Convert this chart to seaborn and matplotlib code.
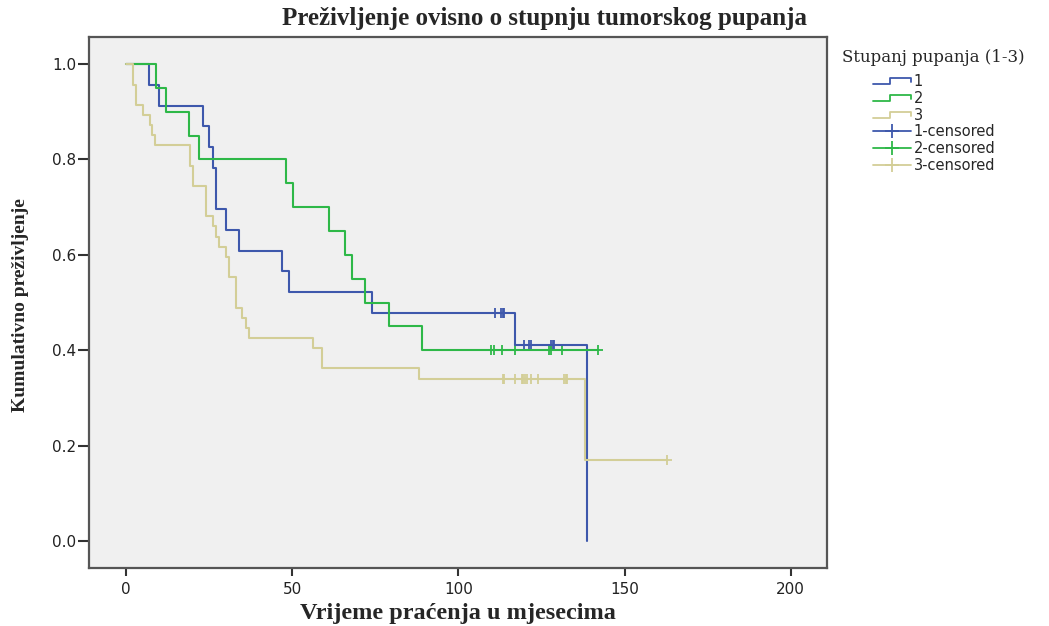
import matplotlib
matplotlib.use("Agg")
import matplotlib.pyplot as plt
from matplotlib.lines import Line2D
from matplotlib.legend_handler import HandlerBase
import seaborn as sns
import numpy as np

# Kaplan-Meier steps (time in months, cumulative survival)
t1 = [0, 7.0, 10.0, 23.1, 25.1, 26.3, 27.1, 30.1, 34.0, 47.0, 49.0, 74.1, 117.0, 138.8]
s1 = [1.0, 0.957, 0.913, 0.870, 0.826, 0.783, 0.696, 0.652, 0.609, 0.565, 0.522, 0.478, 0.410, 0.0]
c1 = [111.0, 112.8, 113.3, 113.7, 119.8, 121.3, 121.9, 127.9, 128.4, 128.8]

t2 = [0, 9.2, 12.2, 19.0, 22.1, 48.1, 50.2, 61.2, 66.0, 68.1, 72.0, 79.0, 89.0]
s2 = [1.0, 0.95, 0.90, 0.85, 0.80, 0.75, 0.70, 0.65, 0.60, 0.55, 0.50, 0.45, 0.40]
c2 = [109.8, 110.7, 113.1, 117.0, 127.4, 127.9, 131.1, 142.1]

t3 = [0, 2.0, 3.0, 5.0, 7.2, 8.0, 8.8, 19.3, 20.1, 24.1, 26.3, 27.0, 28.0, 30.1,
      31.1, 33.0, 35.0, 36.0, 37.1, 56.2, 59.0, 88.1, 138.1]
s3 = [1.0, 0.957, 0.915, 0.894, 0.872, 0.851, 0.830, 0.787, 0.745, 0.681, 0.660, 0.638,
      0.617, 0.596, 0.553, 0.489, 0.468, 0.447, 0.426, 0.404, 0.362, 0.340, 0.170]
c3 = [113.3, 113.7, 117.0, 119.1, 119.5, 120.1, 120.6, 121.9, 123.9, 131.9, 132.3, 132.8, 162.9]

groups = ["1", "2", "3"]
colors = ["#3E58AC", "#2EB848", "#D3CE97"]
xticks = [0, 50, 100, 150, 200]
yticks = [0.0, 0.2, 0.4, 0.6, 0.8, 1.0]


class StepHandler(HandlerBase):
    # little step glyph like the SPSS legend
    def create_artists(self, legend, orig_handle, xdescent, ydescent, width, height, fontsize, trans):
        x = np.array([0, 0.45, 0.45, 1.0, 1.0]) * width - xdescent
        y = np.array([0.15, 0.15, 0.75, 0.75, 0.35]) * height - ydescent
        ln = Line2D(x, y, color=orig_handle.get_color(), lw=orig_handle.get_linewidth())
        ln.set_transform(trans)
        return [ln]


sns.set_theme(style="white", rc={"axes.facecolor": "#F0F0F0"})
plt.rcParams['font.family'] = ['DejaVu Sans']

fig = plt.figure(figsize=(10.49, 6.26), dpi=100)
ax = fig.add_axes([89 / 1049, 1 - 567.7 / 626, (827.3 - 89) / 1049, (567.7 - 37.3) / 626])

for t, s, cens, col in zip([t1, t2, t3], [s1, s2, s3], [c1, c2, c3], colors):
    t = list(t)
    s = list(s)
    if max(cens) > t[-1]:
        t.append(max(cens))
        s.append(s[-1])
    sns.lineplot(x=t, y=s, drawstyle="steps-post", estimator=None, sort=False,
                 color=col, linewidth=1.5, ax=ax)
    idx = np.searchsorted(t, cens, side="right") - 1
    lev = [s[i] for i in idx]
    sns.scatterplot(x=cens, y=lev, marker="+", s=55, color=col, linewidth=1.3, ax=ax, legend=False)

ax.set_xlim(-11.1, 211.0)
ax.set_ylim(-0.056, 1.056)
ax.set_xticks(xticks)
ax.set_yticks(yticks)
ax.set_yticklabels(["%.1f" % v for v in yticks])
ax.tick_params(axis="x", direction="out", length=6, width=1.5, color="#333333", pad=4,
               labelsize=11, labelcolor="#222222", bottom=True)
ax.tick_params(axis="y", direction="out", length=8, width=1.5, color="#333333", pad=1,
               labelsize=11, labelcolor="#222222", left=True)
for sp in ax.spines.values():
    sp.set_color("#555555")
    sp.set_linewidth(1.6)

ax.set_xlabel("Vrijeme praćenja u mjesecima", fontsize=17.5, fontweight="bold",
              family="Liberation Serif")
ax.xaxis.set_label_coords(0.5, (567.7 - 613) / 530.4)
ax.xaxis.label.set_va("center")
ax.set_ylabel("Kumulativno preživljenje", fontsize=14, fontweight="bold",
              family="Liberation Serif")
ax.yaxis.set_label_coords((20 - 89) / 738.3, (567.7 - 305) / 530.4)
ax.yaxis.label.set_va("center")

fig.text(545 / 1049, 1 - 19 / 626, "Preživljenje ovisno o stupnju tumorskog pupanja",
         ha="center", va="center", fontsize=18, fontweight="bold", family="Liberation Serif")

fig.text(842 / 1049, 1 - 57 / 626, "Stupanj pupanja (1-3)", ha="left", va="center",
         fontsize=12, family="DejaVu Serif")

step_h = [Line2D([], [], color=c, lw=1.3) for c in colors]
cens_h = [Line2D([], [], color=c, lw=1.3, marker="+", markersize=10, mew=1.3) for c in colors]
labels = groups + [g + "-censored" for g in groups]
hmap = {h: StepHandler() for h in step_h}
fig.legend(step_h + cens_h, labels, handler_map=hmap, loc="upper left",
           bbox_to_anchor=(873 / 1049, 1 - 74 / 626), frameon=False, borderpad=0,
           borderaxespad=0, handlelength=2.6, handletextpad=0.2, labelspacing=0.12,
           fontsize=10.5, numpoints=1)

fig.savefig("out.png", dpi=100)
